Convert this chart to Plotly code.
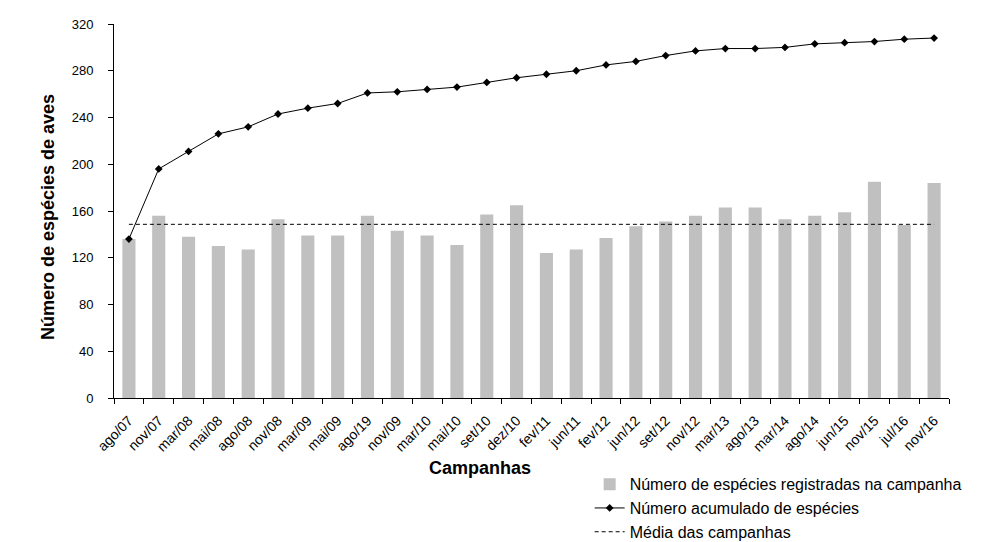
import plotly.graph_objects as go

campanhas = ["ago/07", "nov/07", "mar/08", "mai/08", "ago/08", "nov/08", "mar/09", "mai/09",
             "ago/19", "nov/09", "mar/10", "mai/10", "set/10", "dez/10", "fev/11", "jun/11",
             "fev/12", "jun/12", "set/12", "nov/12", "mar/13", "ago/13", "mar/14", "ago/14",
             "jun/15", "nov/15", "jul/16", "nov/16"]

especies_campanha = [136, 156, 138, 130, 127, 153, 139, 139, 156, 143, 139, 131, 157, 165,
                     124, 127, 137, 147, 151, 156, 163, 163, 153, 156, 159, 185, 148, 184]

especies_acumulado = [136, 196, 211, 226, 232, 243, 248, 252, 261, 262, 264, 266, 270, 274,
                      277, 280, 285, 288, 293, 297, 299, 299, 300, 303, 304, 305, 307, 308]

media_campanhas = 148.6

y_ticks = [0, 40, 80, 120, 160, 200, 240, 280, 320]

FONT = "Liberation Sans, Arial, sans-serif"

fig = go.Figure()
fig.add_trace(go.Bar(
    x=campanhas, y=especies_campanha,
    name="Número de espécies registradas na campanha",
    marker=dict(color="#C0C0C0", line=dict(width=0)),
    width=0.44,
))
fig.add_trace(go.Scatter(
    x=campanhas, y=especies_acumulado,
    name="Número acumulado de espécies",
    mode="lines+markers",
    line=dict(color="black", width=1),
    marker=dict(symbol="diamond", size=6, color="black"),
))
fig.add_trace(go.Scatter(
    x=campanhas, y=[media_campanhas] * len(campanhas),
    name="Média das campanhas",
    mode="lines",
    line=dict(color="black", width=1, dash="4px,3px"),
))

fig.update_layout(
    width=996, height=534,
    margin=dict(l=106, r=55, t=16, b=144, autoexpand=False),
    paper_bgcolor="white", plot_bgcolor="white",
    font=dict(family=FONT, size=12, color="black"),
    showlegend=True,
    legend=dict(
        xref="container", yref="container",
        x=0.584, y=0.140, xanchor="left", yanchor="top",
        font=dict(family=FONT, size=16, color="black"),
        bgcolor="rgba(0,0,0,0)", tracegroupgap=0,
        itemwidth=30,
    ),
)
fig.update_xaxes(
    type="category", range=[-0.5, len(campanhas) - 0.5],
    showline=True, linecolor="black", linewidth=1,
    ticks="outside", ticklen=5, tickcolor="black", tickson="boundaries",
    tickangle=-45, tickfont=dict(family=FONT, size=14), ticklabelstandoff=8,
    showgrid=False, zeroline=False,
)
fig.update_yaxes(
    range=[0, 320], tickvals=y_ticks,
    showline=True, linecolor="black", linewidth=1,
    ticks="outside", ticklen=5, tickcolor="black",
    tickfont=dict(family=FONT, size=13), ticklabelstandoff=12,
    showgrid=False, zeroline=False,
)
fig.add_annotation(
    text="<b>Campanhas</b>", xref="paper", yref="paper",
    x=0.438, y=-0.187, xanchor="center", yanchor="middle",
    showarrow=False, font=dict(family=FONT, size=18, color="black"),
)
fig.add_annotation(
    text="<b>Número de espécies de aves</b>", xref="paper", yref="paper",
    x=-0.079, y=0.484, xanchor="center", yanchor="middle", textangle=-90,
    showarrow=False, font=dict(family=FONT, size=18, color="black"),
)

fig.write_html("out.html")
